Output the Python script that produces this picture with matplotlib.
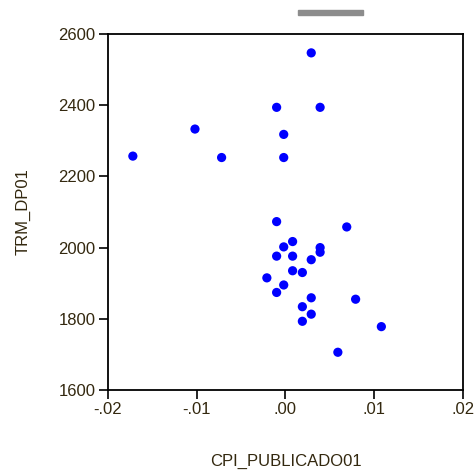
import matplotlib
matplotlib.use("Agg")
import matplotlib.pyplot as plt
from matplotlib.patches import Rectangle

# ---- DATA ----
cpi = [-0.0172, -0.0102, -0.0072, -0.0010, 0.0039, 0.0029, -0.0002, -0.0002,
       -0.0010, 0.0069, 0.0008, -0.0002, 0.0039, 0.0039, -0.0010, 0.0008,
       0.0029, 0.0008, 0.0019, -0.0021, -0.0002, -0.0010, 0.0029, 0.0079,
       0.0019, 0.0029, 0.0019, 0.0108, 0.0059]
trm = [2257, 2333, 2253, 2394, 2394, 2547, 2318, 2253,
       2073, 2058, 2017, 2002, 2000, 1987, 1976, 1976,
       1966, 1935, 1930, 1915, 1895, 1874, 1859, 1855,
       1834, 1813, 1793, 1778, 1706]

x_ticks = [-0.02, -0.01, 0.0, 0.01, 0.02]
x_tick_labels = ["-.02", "-.01", ".00", ".01", ".02"]
y_ticks = [1600, 1800, 2000, 2200, 2400, 2600]

TEXT_COLOR = "#33280f"
plt.rcParams["font.family"] = ["Liberation Sans", "DejaVu Sans"]

fig = plt.figure(figsize=(4.77, 4.74), dpi=100)
ax = fig.add_axes([108 / 477, 1 - 390 / 474, 355 / 477, 356 / 474])

ax.scatter(cpi, trm, s=44, color="#0000ff", edgecolors="none", zorder=3)

ax.set_xlim(-0.02, 0.02)
ax.set_ylim(1600, 2600)
ax.set_xticks(x_ticks)
ax.set_xticklabels(x_tick_labels)
ax.set_yticks(y_ticks)
ax.tick_params(direction="out", length=6.5, width=1.2, color="black",
               labelsize=12, labelcolor=TEXT_COLOR, pad=2.5)
for sp in ax.spines.values():
    sp.set_linewidth(1.3)

ax.set_xlabel("CPI_PUBLICADO01", fontsize=12, color=TEXT_COLOR, labelpad=26)
ax.set_ylabel("TRM_DP01", fontsize=12, color=TEXT_COLOR, labelpad=20)

# small grey bar drawn above the plot in the original export
fig.patches.append(Rectangle((298 / 477, 1 - 15 / 474), 65 / 477, 5 / 474,
                             transform=fig.transFigure, color="#8c8c8c"))

fig.savefig("out.png", dpi=100)
